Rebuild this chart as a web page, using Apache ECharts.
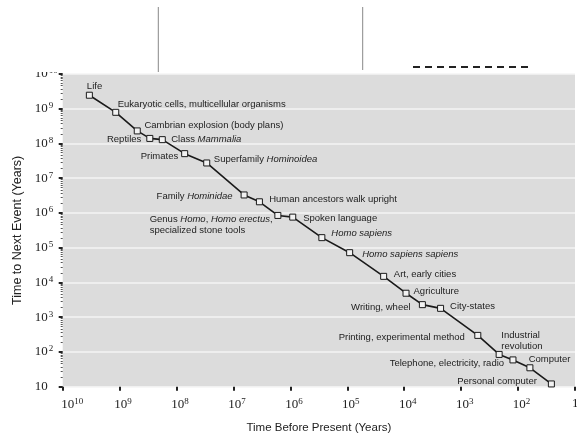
<!DOCTYPE html>
<html>
<head>
<meta charset="utf-8">
<script src="https://cdn.jsdelivr.net/npm/echarts@6/dist/echarts.min.js"></script>
<style>
html,body{margin:0;padding:0;background:#fff;}
#c{width:577px;height:435px;}
</style>
</head>
<body>
<div id="c"></div>
<script>
// ---- data ----
const eventNames = [
  'Life',
  'Eukaryotic cells, multicellular organisms',
  'Cambrian explosion (body plans)',
  'Reptiles',
  'Class {i|Mammalia}',
  'Primates',
  'Superfamily {i|Hominoidea}',
  'Family {i|Hominidae}',
  'Human ancestors walk upright',
  'Genus {i|Homo}, {i|Homo erectus},\nspecialized stone tools',
  'Spoken language',
  '{i|Homo sapiens}',
  '{i|Homo sapiens sapiens}',
  'Art, early cities',
  'Agriculture',
  'Writing, wheel',
  'City-states',
  'Printing, experimental method',
  'Industrial\nrevolution',
  'Telephone, electricity, radio',
  'Computer',
  'Personal computer'
];
const timeBeforePresent = [3.4e9, 1.17e9, 4.9e8, 2.95e8, 1.78e8, 7.2e7, 2.95e7, 6.5e6, 3.5e6, 1.66e6, 9.1e5, 2.8e5, 9.1e4, 2.3e4, 9.3e3, 4.8e3, 2.3e3, 510, 215, 123, 62, 26];
const timeToNextEvent = [2.45e9, 7.9e8, 2.3e8, 1.4e8, 1.29e8, 5.1e7, 2.75e7, 3.3e6, 2.1e6, 8.5e5, 7.6e5, 1.95e5, 7.2e4, 1.5e4, 4.9e3, 2.3e3, 1.8e3, 300, 85, 59, 35, 12];
const axisMin = 10, axisMax = 1e10;

// ---- label placement (side, dx, dy) ----
const labelPlacement = [
  ['right', -6, -9], ['right', -1.5, -8.4], ['right', 3.7, -5.3], ['left', -5, 1.3],
  ['right', 5.4, 0], ['left', -3, 3], ['right', 3.6, -3.6], ['left', -8, 1.7],
  ['right', 6.3, -2.4], ['right', -131.7, 9.3], ['right', 7, 1.7], ['right', 6, -4.4],
  ['right', 9, 1.3], ['right', 6.7, -1.7], ['right', 4, -1.6], ['left', -8.3, 2.4],
  ['right', 6, -1.6], ['left', -9.4, 2], ['right', -1.3, -13.5], ['left', -5.4, 3.3],
  ['right', -4.7, -8], ['left', -11, -2.3]
];

const labelFont = 'Liberation Sans, Arial, sans-serif';
const tickFont = 'Liberation Serif, Times New Roman, serif';

const seriesData = timeBeforePresent.map((x, i) => ({
  value: [x, timeToNextEvent[i]],
  label: {
    show: true,
    formatter: eventNames[i],
    position: labelPlacement[i][0],
    distance: 0,
    offset: [labelPlacement[i][1], labelPlacement[i][2]],
    align: 'left' === labelPlacement[i][0] ? 'right' : 'left',
    fontSize: 9.5,
    lineHeight: 11,
    fontFamily: labelFont,
    color: '#222',
    rich: { i: { fontStyle: 'italic', fontSize: 9.5, lineHeight: 11, fontFamily: labelFont, color: '#222' } }
  }
}));

function expOf(v){ return Math.round(Math.log10(v)); }

const chart = echarts.init(document.getElementById('c'), null, {renderer: 'canvas'});
chart.setOption({
  animation: false,
  backgroundColor: '#fff',
  grid: {
    left: 62.7, right: 2, top: 74, bottom: 48.3,
    containLabel: false, outerBoundsMode: 'none',
    show: true, backgroundColor: '#dcdcdc', borderWidth: 0
  },
  xAxis: {
    type: 'log', logBase: 10, min: axisMin, max: axisMax, inverse: true, splitNumber: 9,
    name: 'Time Before Present (Years)', nameLocation: 'middle', nameGap: 35,
    nameTextStyle: { fontFamily: labelFont, fontSize: 11.5, color: '#222' },
    axisLine: { show: false },
    axisTick: { show: true, inside: false, length: 4, lineStyle: { color: '#222', width: 2 } },
    splitLine: { show: false },
    axisLabel: {
      margin: 10, color: '#222',
      formatter: function(v){
        const e = expOf(v);
        if (e === 1) return '{b|10}';
        if (e === 10) return '{b10|10}{s|' + e + '}';
        return '{b|10}{s|' + e + '}';
      },
      rich: {
        b: { fontFamily: tickFont, fontSize: 13, color: '#222', padding: [0,0,0,7] },
        b10: { fontFamily: tickFont, fontSize: 13, color: '#222', padding: [0,0,0,19] },
        s: { fontFamily: tickFont, fontSize: 9, color: '#222', verticalAlign: 'top', padding: [0,0,6,0] }
      }
    }
  },
  yAxis: {
    type: 'log', logBase: 10, min: axisMin, max: axisMax, splitNumber: 9,
    name: 'Time to Next Event (Years)', nameLocation: 'middle', nameGap: 38,
    nameTextStyle: { fontFamily: labelFont, fontSize: 12.5, color: '#222' },
    axisLine: { show: false },
    axisTick: { show: true, inside: false, length: 4, lineStyle: { color: '#222', width: 2 } },
    minorTick: { show: true, splitNumber: 10, length: 2, lineStyle: { color: '#555', width: 1 } },
    splitLine: { show: true, lineStyle: { color: '#f4f4f4', width: 1.5 } },
    axisLabel: {
      margin: 28, align: 'left', color: '#222',
      formatter: function(v){
        const e = expOf(v);
        if (e === 1) return '{b|10}';
        return '{b|10}{s|' + e + '}';
      },
      rich: {
        b: { fontFamily: tickFont, fontSize: 13, color: '#222' },
        s: { fontFamily: tickFont, fontSize: 9, color: '#222', verticalAlign: 'top', padding: [0,0,6,1] }
      }
    }
  },
  series: [{
    type: 'line',
    data: seriesData,
    symbol: 'rect',
    symbolSize: 6,
    showAllSymbol: true,
    lineStyle: { color: '#1a1a1a', width: 1.6 },
    itemStyle: { color: '#f2f2f2', borderColor: '#1a1a1a', borderWidth: 1 },
    z: 3
  }],
  graphic: [
    { type: 'rect', shape: { x: 0, y: 0, width: 577, height: 72 }, style: { fill: '#fff' }, z: 100 },
    { type: 'line', shape: { x1: 158.3, y1: 7, x2: 158.3, y2: 72 }, style: { stroke: '#888', lineWidth: 1 }, z: 101 },
    { type: 'line', shape: { x1: 362.7, y1: 7, x2: 362.7, y2: 70 }, style: { stroke: '#888', lineWidth: 1 }, z: 101 },
    { type: 'line', shape: { x1: 413, y1: 67, x2: 528, y2: 67 }, style: { stroke: '#222', lineWidth: 2, lineDash: [7, 5] }, z: 101 }
  ]
});
</script>
</body>
</html>
